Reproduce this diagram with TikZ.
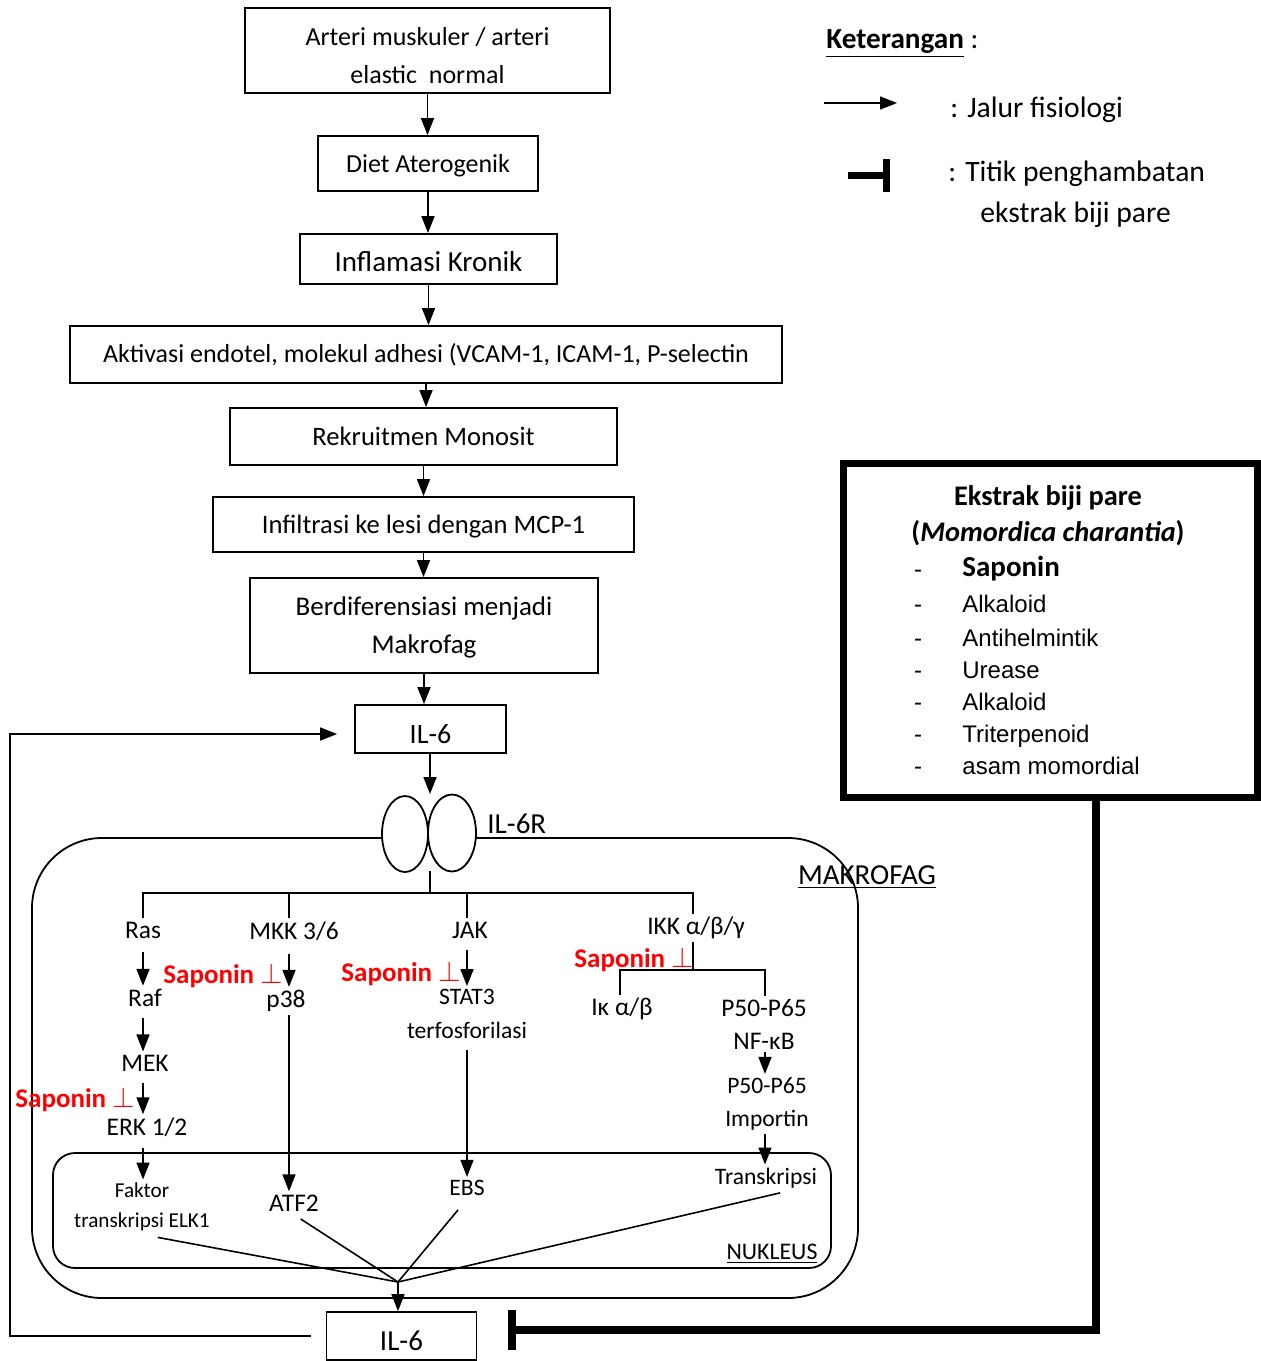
\documentclass[tikz,border=0pt]{standalone}
\usepackage{fontspec}
\setmainfont{Carlito}
\newfontfamily\arialfont{Liberation Sans}
\usetikzlibrary{arrows.meta,shapes.geometric}
\definecolor{ink}{HTML}{000000}
\definecolor{sapred}{HTML}{FF0000}
\newcommand{\fsz}[2]{\fontsize{#1pt}{#2pt}\selectfont}
\newcommand{\sapo}{Saponin $\perp$}
% lowers a line of text without changing the size TikZ sees
\newcommand{\dn}[2]{\raisebox{-#1}[\height][\depth]{#2}}

\begin{document}
\begin{tikzpicture}[x=0.5pt,y=-0.5pt,>={Triangle[length=8.5pt,width=6.5pt]},
  flowbox/.style={draw=ink,line width=0.9pt,align=center,inner sep=0pt,font=\fsz{13}{19}},
  lbl/.style={align=center,inner sep=1.5pt,font=\fsz{12.7}{16.5}},
  small/.style={align=center,inner sep=1.5pt,font=\fsz{11.8}{16.8}},
  sap/.style={anchor=east,inner sep=0pt,text=sapred,font=\fsz{13.5}{14}\bfseries},
  item/.style={inner sep=0pt,text height=10pt,text depth=3pt,font=\arialfont\fsz{12}{14}},
  flow/.style={->,line width=0.8pt},
  link/.style={line width=0.8pt},
  inhib/.style={-{Bar[width=20pt]},line width=4pt}]

\useasboundingbox (0,0) rectangle (1261,1361);

% ---------------- L1: main flow ---------------------------------------------
\node[flowbox,minimum width=182.5pt,minimum height=42.5pt] (arteri) at (427.5,50.5) {\dn{2.5pt}{Arteri muskuler / arteri}\\\dn{2.5pt}{elastic\ \ normal}};
\node[flowbox,minimum width=110pt,minimum height=27.5pt] (diet) at (428,163.5) {\dn{1pt}{Diet Aterogenik}};
\node[flowbox,font=\fsz{14.5}{17},minimum width=128.5pt,minimum height=25pt] (inflam) at (428.5,259) {\dn{1.5pt}{Inflamasi Kronik}};
\node[flowbox,minimum width=356pt,minimum height=28.5pt] (aktivasi) at (426,354.5) {Aktivasi endotel, molekul adhesi (VCAM-1, ICAM-1, P-selectin};
\node[flowbox,font=\fsz{13.3}{17},minimum width=193.5pt,minimum height=28.5pt] (rekrut) at (423.5,436.5) {Rekruitmen Monosit};
\node[flowbox,font=\fsz{13.3}{17},minimum width=210.5pt,minimum height=27.5pt] (infil) at (423.5,524.5) {\dn{1pt}{Infiltrasi ke lesi dengan MCP-1}};
\node[flowbox,font=\fsz{13.5}{19},minimum width=174pt,minimum height=47.5pt] (diferen) at (424,625.5) {\dn{1pt}{Berdiferensiasi menjadi}\\\dn{1pt}{Makrofag}};
\node[flowbox,font=\fsz{14}{17},minimum width=75.5pt,minimum height=24pt] (ilA) at (430.5,729) {\dn{2.5pt}{IL-6}};

\foreach \a/\b in {arteri/diet,diet/inflam,inflam/aktivasi,aktivasi/rekrut,rekrut/infil,infil/diferen,diferen/ilA}
  \draw[flow] (\a.south) -- (\a.south |- \b.north);

% ---------------- L2: macrophage and receptor -------------------------------
\draw[line width=0.9pt,rounded corners=35pt] (32,838) rectangle (858,1298);
\draw[line width=0.9pt,rounded corners=11pt] (53,1153) rectangle (831,1268);
\node[font=\fsz{14.5}{17},inner sep=0pt] (makrofag) at (867,877) {\underline{MAKROFAG}};
\node[font=\fsz{11.9}{14},inner sep=0pt] (nukleus) at (772,1254) {\underline{NUKLEUS}};

\fill[white] (405,834) ellipse [x radius=23,y radius=38];
\fill[white] (452,833) ellipse [x radius=24,y radius=38.5];
\node[ellipse,draw,line width=0.9pt,inner sep=0pt,minimum width=23pt,minimum height=38pt] (rcptL) at (405,834) {};
\node[ellipse,draw,line width=0.9pt,inner sep=0pt,minimum width=24pt,minimum height=38.5pt] (rcptR) at (452,833) {};
\node[font=\fsz{14.5}{17},inner sep=0pt,anchor=west] (il6r) at (487,824) {IL-6R};

\coordinate (rcptTop) at (430,794);
\draw[flow] (ilA.south -| rcptTop) -- (rcptTop);

% ---------------- L3: signalling branches -----------------------------------
\node[lbl] (ras) at (143,930) {Ras};
\node[lbl] (raf) at (145,998) {Raf};
\node[lbl] (mek) at (145,1063) {MEK};
\node[lbl] (erk) at (147,1127) {ERK 1/2};
\node[align=center,inner sep=1.5pt,font=\fsz{10.6}{15}] (elk) at (142,1207) {Faktor\\transkripsi ELK1};

\node[lbl] (mkk) at (294,931) {MKK 3/6};
\node[lbl] (p38) at (286,1001) {p38};
\node[lbl] (atf) at (294,1203) {ATF2};

\node[lbl] (jak) at (470,930) {JAK};
\node[small] (stat) at (467,1014) {STAT3\\terfosforilasi};
\node[small] (ebs) at (467,1188) {EBS};

\node[lbl] (ikk) at (696,928) {IKK α/β/γ};
\node[lbl] (ikb) at (622,1009) {Iκ α/β};
\node[lbl] (nfkb) at (764,1024) {P50-P65\\NF-κB};
\node[small] (imp) at (767,1104) {P50-P65\\Importin};
\node[small] (trans) at (766,1178) {Transkripsi};

\coordinate (stem) at (430,871);
\coordinate (split) at (430,893);
\coordinate (barL) at (143,893);
\coordinate (barR) at (693,893);
\coordinate (mkkTop) at (289,893);
\coordinate (jakTop) at (467,893);
\draw[link] (stem) -- (split);
\draw[link] (ras.north) -- (barL) -- (barR) -- (barR |- ikk.north);
\draw[link] (mkkTop) -- (mkkTop |- mkk.north);
\draw[link] (jakTop) -- (jakTop |- jak.north);

\coordinate (ikkbar) at (693,970);
\coordinate (ikbTop) at (620,970);
\coordinate (nfkbTop) at (765,970);
\draw[link] (ikk.south -| ikkbar) -- (ikkbar);
\draw[link] (ikb.north -| ikbTop) -- (ikbTop) -- (nfkbTop) -- (nfkb.north -| nfkbTop);

\draw[flow,shorten <=5pt] (ras) -- (ras |- raf.north);
\draw[flow,shorten <=4pt] (raf.south -| ras) -- (ras |- mek.north);
\draw[flow,shorten <=4pt] (mek.south -| ras) -- (ras |- erk.north);
\draw[flow,shorten <=4pt] (erk.south -| ras) -- (ras |- elk.north);
\draw[flow,shorten <=5pt] (mkk.south -| mkkTop) -- (p38.north -| mkkTop);
\draw[flow] (p38.south -| mkkTop) -- (atf.north -| mkkTop);
\draw[flow,shorten <=4pt] (jak.south -| jakTop) -- (stat.north -| jakTop);
\draw[flow,shorten <=4pt] (stat.south -| jakTop) -- (ebs.north -| jakTop);
\draw[flow] (nfkb.south -| nfkbTop) -- (imp.north -| nfkbTop);
\draw[flow] (imp.south -| nfkbTop) -- (trans.north -| nfkbTop);

\node[sap] (sapErk) at (135,1100) {\sapo};
\node[sap] (sapP38) at (283,976) {\sapo};
\node[sap] (sapStat) at (461,974) {\sapo};
\node[sap] (sapIkk) at (694,960) {\sapo};

% ---------------- L4: back to IL-6 ------------------------------------------
\node[flowbox,font=\fsz{14.5}{17},minimum width=75pt,minimum height=24pt] (ilB) at (401.5,1336) {\dn{2.5pt}{IL-6}};
\coordinate (conv) at (398,1282);
\draw[link,shorten <=8pt] (elk.south) -- (conv);
\draw[link,shorten <=4pt] (atf.south) -- (conv);
\draw[link,shorten <=7pt] (ebs.south) -- (conv);
\draw[link,shorten <=3pt] ([xshift=10pt]trans.south) -- (conv);
\draw[flow] (conv) -- (conv |- ilB.north);

\coordinate (fbLow) at (10,1336);
\coordinate (fbHigh) at (10,734);
\draw[flow,shorten <=7.5pt,shorten >=8.5pt] (ilB.west) -- (fbLow) -- (fbHigh) -- (fbHigh -| ilA.west);

% ---------------- L5: extract box and inhibition ----------------------------
\node[draw=ink,line width=3.5pt,minimum width=207pt,minimum height=167pt] (ekstrak) at (1050,630) {};
\node[align=center,inner sep=0pt,font=\fsz{14.2}{18}\bfseries] (ekTitle) at (1048,516) {Ekstrak biji pare\\(\textit{Momordica charantia})};
\node[item] (dashSap) at (918,570) {-};
\node[inner sep=0pt,anchor=west,text height=10pt,text depth=3pt,font=\fsz{14.5}{17}\bfseries] (itemSap) at (962,569) {Saponin};
\foreach \y/\t [count=\i] in {605/Alkaloid,639/Antihelmintik,671/Urease,703/Alkaloid,735/Triterpenoid,767/asam momordial} {
  \node[item] (dash\i) at (918,\y) {-};
  \node[item,anchor=west] (item\i) at (962,\y) {\t};
}

\coordinate (inhibTurn) at (1096,1330);
\draw[inhib,shorten >=15.5pt] (ekstrak.south -| inhibTurn) -- (inhibTurn) -- (inhibTurn -| ilB.east);

% ---------------- L6: legend ------------------------------------------------
\node[anchor=west,inner sep=0pt,font=\fsz{14.6}{17}] (ket) at (826,44) {\underline{\textbf{Keterangan}} :};
\coordinate (lgArrA) at (824,103);
\coordinate (lgArrB) at (897,103);
\draw[flow] (lgArrA) -- (lgArrB);
\node[anchor=west,inner sep=0pt,font=\fsz{14.8}{17}] (lgFis) at (950,110) {: Jalur fisiologi};
\coordinate (lgInhA) at (848,175);
\coordinate (lgInhB) at (890,175);
\draw[-{Bar[width=16.5pt]},line width=3.5pt] (lgInhA) -- (lgInhB);
\node[anchor=west,inner sep=0pt,font=\fsz{14.8}{17}] (lgHamb) at (948,174) {: Titik penghambatan};
\node[anchor=west,inner sep=0pt,font=\fsz{14.8}{17}] (lgHamb2) at (980,215) {ekstrak biji pare};

\end{tikzpicture}
\end{document}
